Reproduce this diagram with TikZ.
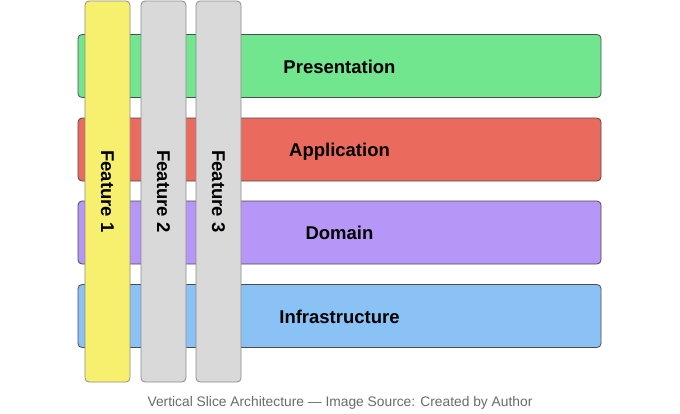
\documentclass[tikz,border=0pt]{standalone}
\usepackage{fontspec}
\setmainfont{Liberation Sans}
\usetikzlibrary{positioning}
\definecolor{layer-green}{RGB}{114, 230, 143}
\definecolor{layer-red}{RGB}{234, 106, 94}
\definecolor{layer-purple}{RGB}{182, 150, 246}
\definecolor{layer-blue}{RGB}{138, 194, 245}
\definecolor{slice-yellow}{RGB}{247, 240, 110}
\definecolor{slice-gray}{RGB}{217, 217, 217}
\definecolor{caption-gray}{RGB}{107, 107, 107}
\tikzset{
  layer/.style={draw=black!70, line width=0.8pt, rounded corners=4pt,
    minimum width=523pt, minimum height=63pt, inner sep=0pt,
    text height=16pt, text depth=2pt,
    font=\fontsize{18.5}{22}\selectfont\bfseries},
  slice/.style={draw=black!45, line width=0.8pt, rounded corners=4pt,
    minimum width=45pt, minimum height=381pt, inner sep=0pt},
  slicetext/.style={rotate=-90, font=\fontsize{18.5}{22}\selectfont\bfseries}
}

\begin{document}
\begin{tikzpicture}[x=1pt, y=-1pt]
\useasboundingbox[fill=white] (0,0) rectangle (680,413);
% horizontal layers
\node[layer, fill=layer-green] (presentation) at (339.5,66) {Presentation};
\node[layer, fill=layer-red] (application) at (339.5,149.5) {Application};
\node[layer, fill=layer-purple] (domain) at (339.5,232.5) {Domain};
\node[layer, fill=layer-blue] (infrastructure) at (339.5,316) {Infrastructure};
% vertical slices
\node[slice, fill=slice-yellow] (feature1) at (107.5,191.5) {};
\node[slice, fill=slice-gray] (feature2) at (163.5,191.5) {};
\node[slice, fill=slice-gray] (feature3) at (218.5,191.5) {};
\node[slicetext] (label1) at (feature1) {Feature 1};
\node[slicetext] (label2) at (feature2) {Feature 2};
\node[slicetext] (label3) at (feature3) {Feature 3};
% caption
\node[text=caption-gray, font=\fontsize{13.8}{16}\selectfont] (caption) at (340,403)
  {Vertical Slice Architecture — Image Source: Created by Author};
\end{tikzpicture}
\end{document}
